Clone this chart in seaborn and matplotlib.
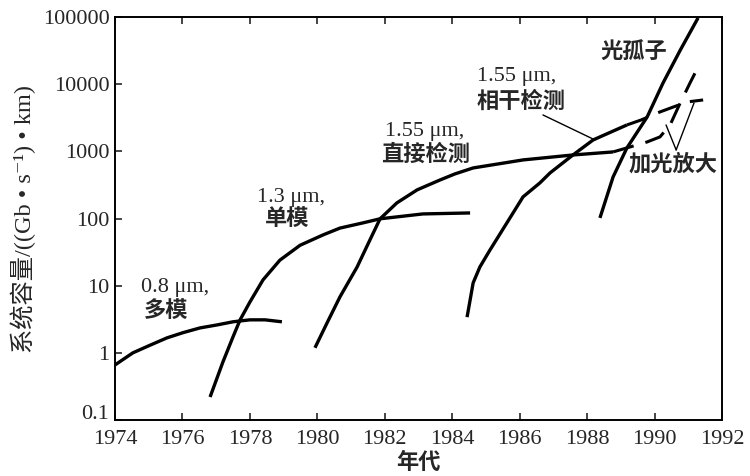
import numpy as np
import pandas as pd
import seaborn as sns
import matplotlib.pyplot as plt
import matplotlib.transforms as mtransforms
from matplotlib.ticker import NullLocator

# 0.8 um, multimode
mm08_year = [1974.0, 1974.53, 1975.04, 1975.54, 1976.02, 1976.52, 1977.02, 1977.5, 1978.0, 1978.45, 1978.95]
mm08_cap = [0.66, 1.0, 1.3, 1.67, 2.0, 2.35, 2.6, 2.9, 3.1, 3.1, 2.9]

# 1.3 um, single mode
sm13_year = [1976.82, 1977.2, 1977.5, 1977.71, 1978.0, 1978.39, 1978.89, 1979.49, 1980.17,
             1980.67, 1981.35, 1981.86, 1983.13, 1984.53]
sm13_cap = [0.22, 0.73, 1.73, 3.1, 5.7, 12.2, 24, 40, 57, 72, 86, 99, 117, 121]

# 1.55 um, direct detection (solid) and with optical amplifier (dashed)
direct_year = [1979.93, 1980.29, 1980.67, 1981.18, 1981.56, 1981.86, 1982.36, 1982.96, 1983.64,
               1984.08, 1984.62, 1986.1, 1987.58, 1988.77]
direct_cap = [1.19, 2.8, 6.8, 19, 48, 99, 171, 267, 375, 461, 566, 745, 883, 980]
direct_amp_year = [1988.77, 1989.18, 1989.78, 1990.16, 1990.46, 1990.76, 1991.05, 1991.29]
direct_amp_cap = [980, 1125, 1380, 1640, 2470, 5250, 10400, 18000]

# 1.55 um, coherent detection (solid) and with optical amplifier (dashed)
coh_year = [1984.44, 1984.53, 1984.62, 1984.82, 1985.12, 1985.62, 1986.1, 1986.6, 1986.9,
            1987.58, 1988.18, 1989.18]
coh_cap = [3.4, 6.1, 11, 19, 34, 86, 210, 339, 477, 883, 1480, 2470]
coh_amp_year = [1989.18, 1989.6, 1990.16, 1990.96, 1991.44]
coh_amp_cap = [2470, 2930, 3860, 5430, 5820]

# solitons
sol_year = [1988.38, 1988.77, 1989.18, 1989.78, 1990.25, 1990.76, 1991.29]
sol_cap = [102, 416, 1125, 3250, 10400, 32000, 97000]

x_ticks = [1974, 1976, 1978, 1980, 1982, 1984, 1986, 1988, 1990, 1992]
y_ticks = [0.1, 1, 10, 100, 1000, 10000, 100000]
y_labels = ["0.1", "1", "10", "100", "1000", "10000", "100000"]

sns.set_style("ticks")
fonts = ["Liberation Serif", "DejaVu Serif", "Noto Sans CJK SC"]
plt.rcParams["font.family"] = fonts

fig = plt.figure(figsize=(7.5, 4.76), dpi=100)
ax = fig.add_axes([0.1533, 0.1176, 0.8094, 0.8467])

solid = [(mm08_year, mm08_cap), (sm13_year, sm13_cap), (direct_year, direct_cap),
         (coh_year, coh_cap), (sol_year, sol_cap)]
for yr, cap in solid:
    sns.lineplot(x=yr, y=cap, ax=ax, color="black", lw=2.4, solid_capstyle="butt")

for yr, cap in [(direct_amp_year, direct_amp_cap), (coh_amp_year, coh_amp_cap)]:
    sns.lineplot(x=yr, y=cap, ax=ax, color="black", lw=2.2,
                 linestyle=(0, (7, 4)))

ax.set_yscale("log")
ax.set_xlim(1974, 1992)
ax.set_ylim(0.1, 100000)
ax.set_xticks(x_ticks)
ax.set_xticklabels([str(t) for t in x_ticks])
ax.set_yticks(y_ticks)
ax.set_yticklabels(y_labels)
ax.yaxis.set_minor_locator(NullLocator())
ax.tick_params(direction="in", top=True, right=False, length=5, width=1.2,
               labelsize=16)
ax.tick_params(axis="x", pad=7)
ax.tick_params(axis="y", pad=4)
for s in ax.spines.values():
    s.set_linewidth(1.4)
    s.set_color("black")

# lift the "0.1" label a little so it clears "1974"
lift = mtransforms.ScaledTranslation(0, 6 / 72, fig.dpi_scale_trans)
low = ax.get_yticklabels()[0]
low.set_transform(low.get_transform() + lift)

ax.set_xlabel("年代", fontsize=16, fontweight="bold", labelpad=3)
ax.set_ylabel("系统容量/((Gb • s⁻¹) • km)", fontsize=17.5, labelpad=5)

nkw = dict(ha="center", va="center", fontsize=16)
ckw = dict(ha="center", va="center", fontsize=16, fontweight="bold")
ax.text(1975.78, 9.3, "0.8 μm,", **nkw)
ax.text(1975.51, 4.1, "多模", **ckw)
ax.text(1979.22, 203, "1.3 μm,", **nkw)
ax.text(1979.1, 95, "单模", **ckw)
ax.text(1983.19, 1945, "1.55 μm,", **nkw)
ax.text(1983.22, 884, "直接检测", **ckw)
ax.text(1985.92, 12800, "1.55 μm,", **nkw)
ax.text(1986.04, 5430, "相干检测", **ckw)
ax.text(1989.39, 30100, "光孤子", **ckw)
ax.text(1990.55, 628, "加光放大", **ckw)

line = dict(arrowstyle="-", lw=1.0, color="black", shrinkA=0, shrinkB=0)
ax.annotate("", xy=(1988.23, 1480), xytext=(1986.69, 3480), arrowprops=line)
ax.annotate("", xy=(1990.34, 2470), xytext=(1990.64, 1050), arrowprops=line)
ax.annotate("", xy=(1991.17, 5250), xytext=(1990.64, 1050), arrowprops=line)

plt.savefig("out.png", dpi=100)
